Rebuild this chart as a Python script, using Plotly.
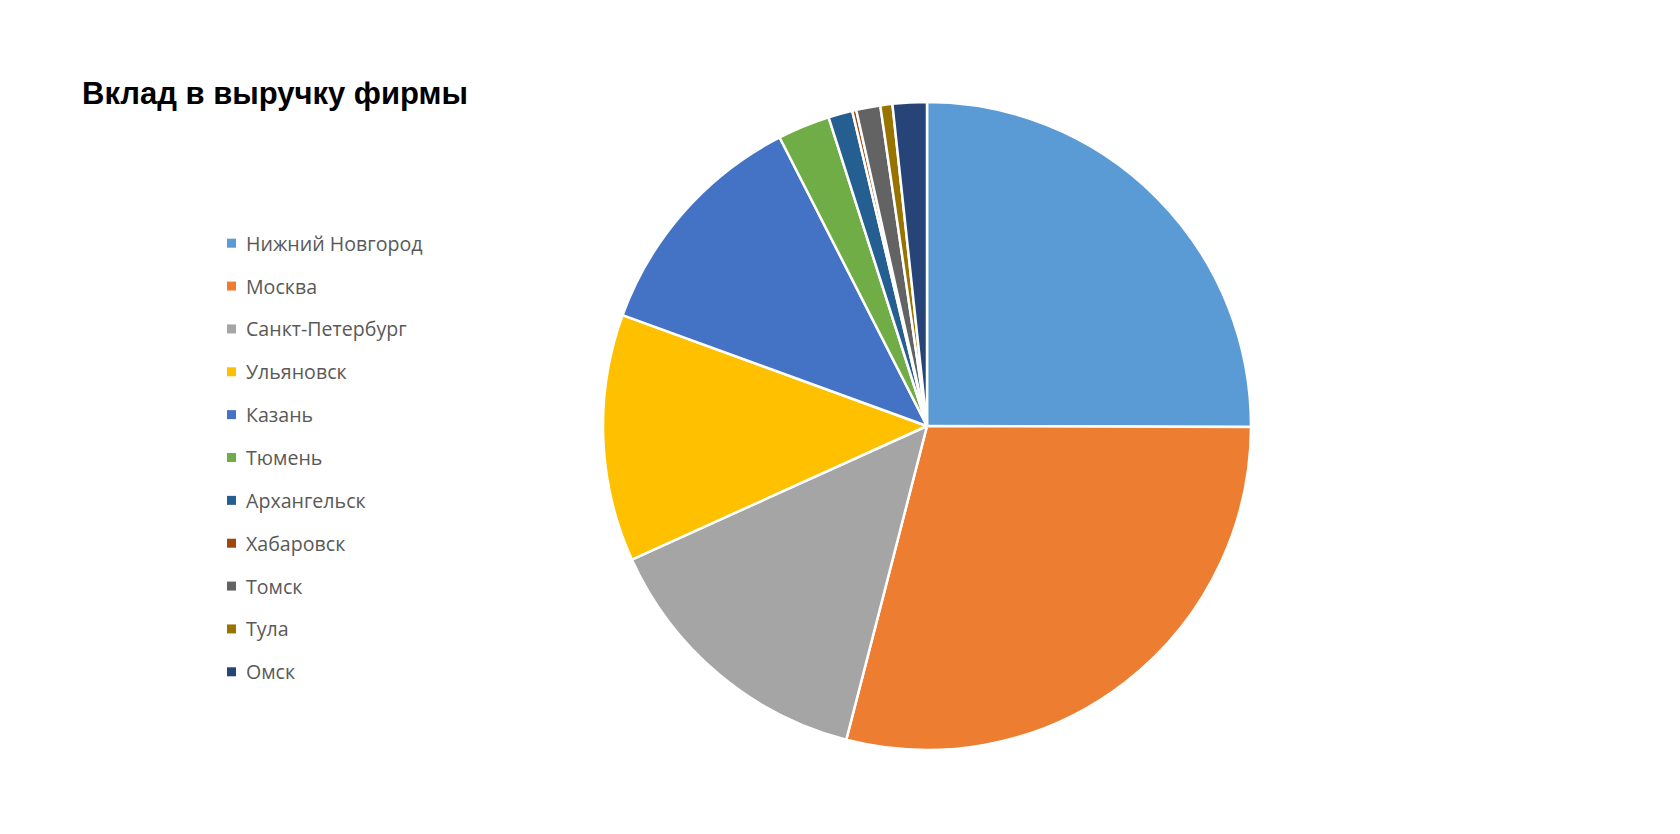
import plotly.graph_objects as go

title_text = "Вклад в выручку фирмы"
cities = ["Нижний Новгород", "Москва", "Санкт-Петербург", "Ульяновск", "Казань",
          "Тюмень", "Архангельск", "Хабаровск", "Томск", "Тула", "Омск"]
shares = [25.0, 28.9, 14.2, 12.3, 11.9, 2.6, 1.2, 0.2, 1.2, 0.6, 1.7]
colors = ["#5B9BD5", "#ED7D31", "#A5A5A5", "#FFC000", "#4472C4", "#70AD47",
          "#255E91", "#9E480E", "#636363", "#997300", "#264478"]

W, H = 1680, 834
off = 8  # browser default body margin
cx, cy, r = 927 - off, 426 - off, 324

fig = go.Figure()
fig.add_trace(go.Pie(
    labels=cities, values=shares, sort=False, direction="clockwise", rotation=0,
    marker=dict(colors=colors, line=dict(color="white", width=2.5)),
    textinfo="none", hoverinfo="label+percent", showlegend=False,
    domain=dict(x=[(cx - r) / W, (cx + r) / W], y=[(H - cy - r) / H, (H - cy + r) / H]),
))

# manual legend
leg_x_sq, leg_x_txt, leg_y0, leg_dy, sq = 231.5 - off, 244 - off, 243.2 - off, 42.86, 9
for i, (name, col) in enumerate(zip(cities, colors)):
    yy = leg_y0 + i * leg_dy
    fig.add_shape(type="rect", xref="paper", yref="paper",
                  x0=(leg_x_sq - sq / 2) / W, x1=(leg_x_sq + sq / 2) / W,
                  y0=1 - (yy + sq / 2) / H, y1=1 - (yy - sq / 2) / H,
                  fillcolor=col, line=dict(width=0))
    fig.add_annotation(x=leg_x_txt / W, y=1 - yy / H, xref="paper", yref="paper",
                       text=name, showarrow=False, xanchor="left", yanchor="middle",
                       font=dict(family="Open Sans, Noto Sans, sans-serif", size=19.6, color="#595959"))

fig.add_annotation(x=(80 - off) / W, y=1 - (93 - off) / H, xref="paper", yref="paper",
                   text="<b>" + title_text + "</b>", showarrow=False,
                   xanchor="left", yanchor="middle",
                   font=dict(family="Liberation Sans, Arial, sans-serif", size=31, color="black"))

fig.update_layout(width=W, height=H, margin=dict(l=0, r=0, t=0, b=0),
                  paper_bgcolor="white", plot_bgcolor="white")
fig.write_html("out.html")
